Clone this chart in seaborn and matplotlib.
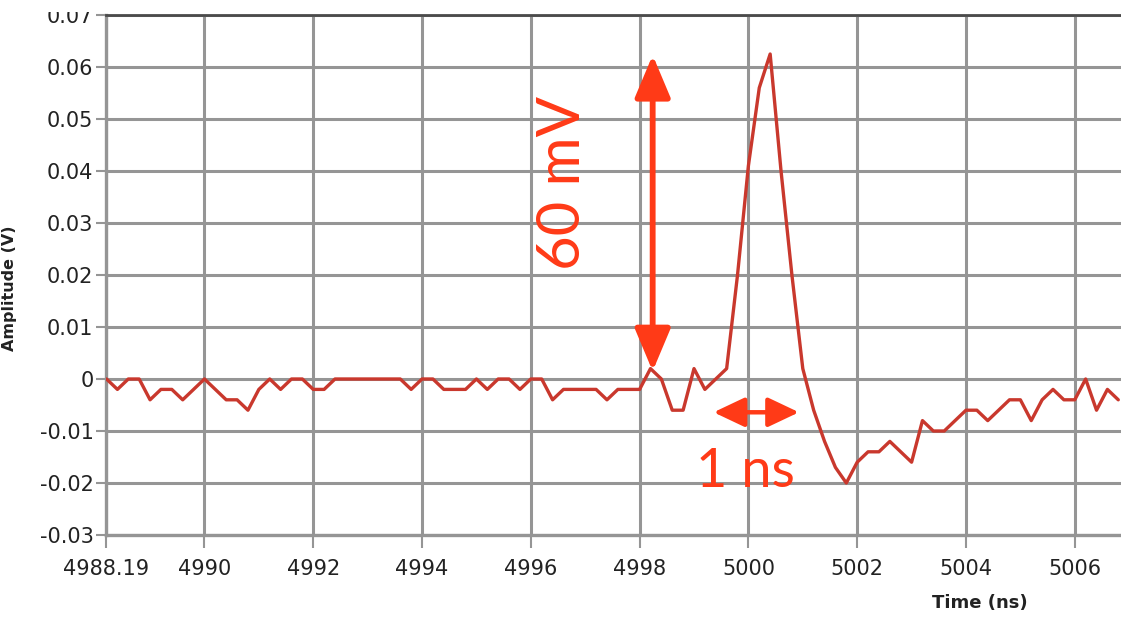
import numpy as np
import pandas as pd
import seaborn as sns
import matplotlib.pyplot as plt
from matplotlib.patches import Rectangle

# Scope trace, sampled every 0.2 ns from 4988.2 ns; amplitude in mV
t_start = 4988.2
dt = 0.2
amp_mv = [0, -2, 0, 0, -4, -2, -2, -4, -2, 0,
          -2, -4, -4, -6, -2, 0, -2, 0, 0, -2,
          -2, 0, 0, 0, 0, 0, 0, 0, -2, 0,
          0, -2, -2, -2, 0, -2, 0, 0, -2, 0,
          0, -4, -2, -2, -2, -2, -4, -2, -2, -2,
          2, 0, -6, -6, 2, -2, 0, 2, 20, 41,
          56, 62.5, 40, 20, 2, -6, -12, -17, -20, -16,
          -14, -14, -12, -14, -16, -8, -10, -10, -8, -6,
          -6, -8, -6, -4, -4, -8, -4, -2, -4, -4,
          0, -6, -2, -4]

x_ticks = [4988.19, 4990, 4992, 4994, 4996, 4998, 5000, 5002, 5004, 5006]
x_labels = ["4988.19", "4990", "4992", "4994", "4996", "4998", "5000", "5002", "5004", "5006"]
y_ticks = [0.07, 0.06, 0.05, 0.04, 0.03, 0.02, 0.01, 0, -0.01, -0.02, -0.03]
y_labels = ["0.07", "0.06", "0.05", "0.04", "0.03", "0.02", "0.01", "0", "-0.01", "-0.02", "-0.03"]

df = pd.DataFrame({
    "Time (ns)": t_start + dt * np.arange(len(amp_mv)),
    "Amplitude (V)": np.array(amp_mv) / 1000.0,
})

trace_c = "#c9382d"
note_c = "#ff3a17"
grid_c = "#959595"

sns.set_theme(style="white")
plt.rcParams['font.family'] = ['DejaVu Sans']

W, H = 1121, 619
fig = plt.figure(figsize=(W / 100, H / 100), dpi=100)
ax = fig.add_axes([106 / W, 84 / H, 1015 / W, 520 / H])

sns.lineplot(data=df, x="Time (ns)", y="Amplitude (V)", ax=ax,
             color=trace_c, lw=2.4, zorder=3)

ax.set_xlim(4988.19, 5006.85)
ax.set_ylim(-0.03, 0.07)
ax.set_xticks(x_ticks, x_labels)
ax.set_yticks(y_ticks, y_labels)
ax.grid(True, color=grid_c, lw=2.2)
ax.set_xlabel("")
ax.set_ylabel("")

for side in ["left", "bottom"]:
    ax.spines[side].set_color(grid_c)
    ax.spines[side].set_linewidth(2.4)
ax.spines["top"].set_color("#4a4a4a")
ax.spines["top"].set_linewidth(2)
ax.spines["right"].set_visible(False)

ax.tick_params(axis="both", direction="out", width=1.5,
               color=grid_c, labelsize=15, labelcolor="#222222")
ax.tick_params(axis="x", length=9, pad=8)
ax.tick_params(axis="y", length=7, pad=2)
ax.tick_params(axis="both", left=True, bottom=True)

fig.text(10 / W, 1 - 288 / H, "Amplitude (V)", rotation=90, ha="center",
         va="center", fontsize=11.5, fontweight="bold", color="#222222")
fig.text(980 / W, 1 - 603 / H, "Time (ns)", ha="center", va="center",
         fontsize=13, fontweight="bold", color="#222222")

# annotations: pulse height and width
ax.annotate("", xy=(4998.24, 0.0623), xytext=(4998.24, 0.0015),
            arrowprops=dict(arrowstyle="<|-|>,head_length=1.0,head_width=0.42",
                            mutation_scale=26, lw=4.2, color=note_c,
                            shrinkA=0, shrinkB=0), zorder=5)
ax.annotate("", xy=(4999.36, -0.0064), xytext=(5000.93, -0.0064),
            arrowprops=dict(arrowstyle="<|-|>,head_length=0.95,head_width=0.45",
                            mutation_scale=20, lw=3.2, color=note_c,
                            shrinkA=0, shrinkB=0), zorder=5)
ax.text(4996.6, 0.0377, "60 mV", rotation=90, ha="center", va="center",
        fontsize=43, color=note_c, family="Lato", zorder=5)
ax.text(4999.95, -0.0178, "1 ns", ha="center", va="center",
        fontsize=39, color=note_c, family="Lato", zorder=5)

# the screenshot is cut just above the top of the plot
fig.patches.append(Rectangle((0, 1 - 12 / H), 1, 12 / H, transform=fig.transFigure,
                             facecolor="white", edgecolor="none", zorder=10))

fig.savefig("out.png", dpi=100)
